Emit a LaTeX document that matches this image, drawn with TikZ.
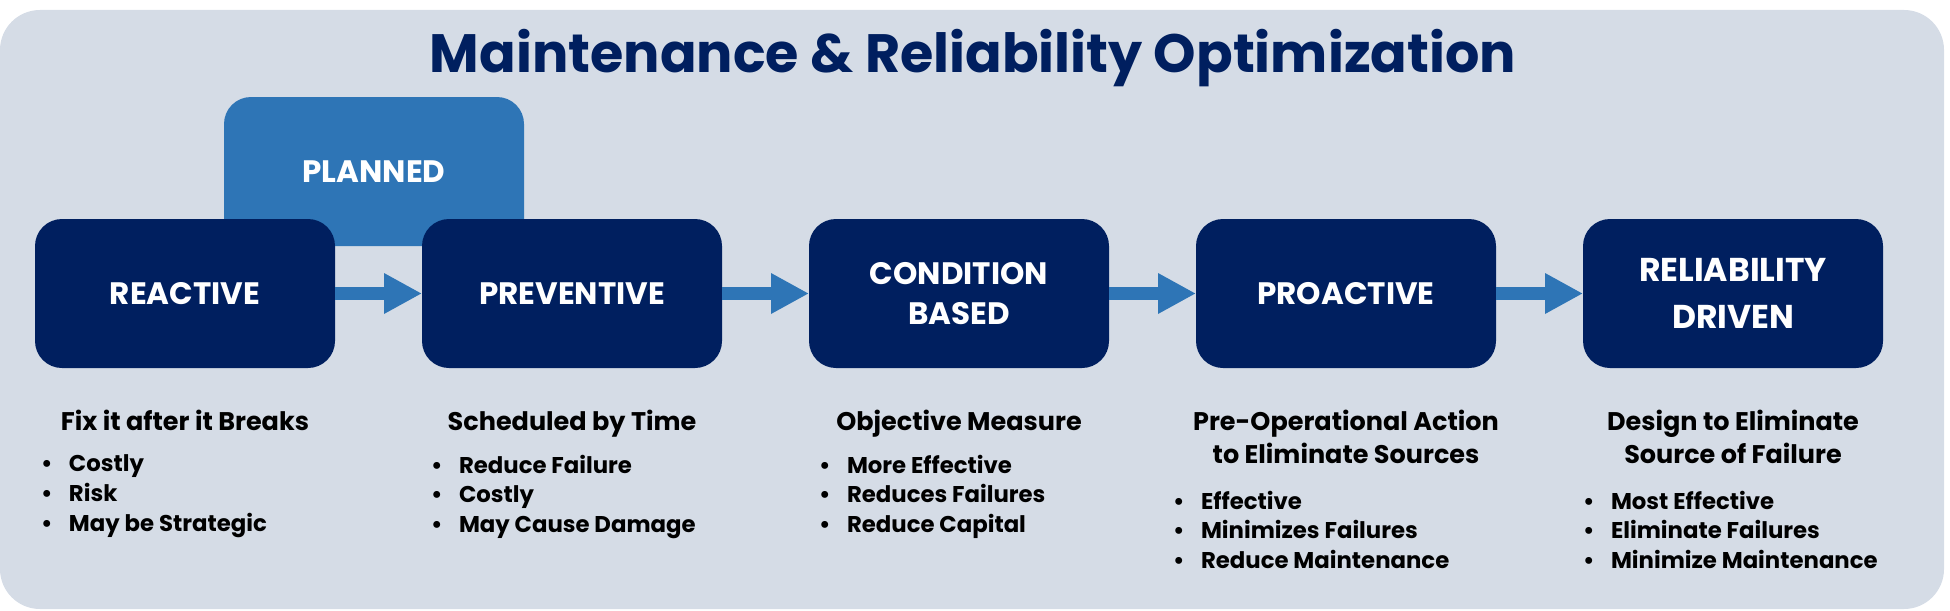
\documentclass[tikz,border=0pt]{standalone}
\usepackage{fontspec}
\setmainfont{Poppins}
\usetikzlibrary{
    arrows.meta,
    positioning
}
\definecolor{navy}{HTML}{001F5F}
\definecolor{steel}{HTML}{2E75B6}
\definecolor{panel}{HTML}{D5DCE6}
\newcommand\itm{\makebox[28pt][l]{\textbullet}}
\tikzset{
    every picture/.style = {
        x = 1pt,
        y = -1pt
    },
    stage/.style = {
        fill = navy,
        rounded corners = 27pt,
        minimum width = 300pt,
        minimum height = 149pt,
        inner sep = 0pt,
        outer sep = 0pt,
        text = white,
        align = center,
        font = \fontsize{31}{40.7}\selectfont\bfseries
    },
    flow/.style = {
        draw = steel,
        line width = 13pt,
        -{Triangle[length=38pt, width=38pt]}
    },
    head/.style = {
        inner sep = 0pt,
        outer sep = 0pt,
        align = center,
        anchor = north,
        font = \fontsize{25.5}{33}\selectfont\bfseries
    },
    list/.style = {
        inner sep = 0pt,
        outer sep = 0pt,
        align = left,
        anchor = north west,
        font = \fontsize{22.8}{29.7}\selectfont\bfseries
    }
}

\begin{document}
\begin{tikzpicture}
    \useasboundingbox (0,0) rectangle (1950,610);
    \fill[panel, rounded corners=40pt] (0,10) rectangle (1944,609);

    \node[font=\fontsize{54}{60}\selectfont\bfseries, text=navy, anchor=base] (title)
        at (973,72) {Maintenance \& Reliability Optimization};

    \node[stage, fill=steel] (planned) at (374,171.5) {PLANNED};
    \node[stage] (reactive) at (185,293.5) {REACTIVE};
    \node[stage, right=87pt of reactive] (preventive) {PREVENTIVE};
    \node[stage, right=87pt of preventive] (condition) {CONDITION\\BASED};
    \node[stage, right=87pt of condition] (proactive) {PROACTIVE};
    \node[stage, right=87pt of proactive,
          font=\fontsize{33}{46.7}\selectfont\bfseries] (reliability) {RELIABILITY\\DRIVEN};

    \draw[flow] (reactive) -- (preventive);
    \draw[flow] (preventive) -- (condition);
    \draw[flow] (condition) -- (proactive);
    \draw[flow] (proactive) -- (reliability);

    \node[head, below=42pt of reactive] (hreactive) {Fix it after it Breaks};
    \node[head, below=42pt of preventive] (hpreventive) {Scheduled by Time};
    \node[head, below=42pt of condition] (hcondition) {Objective Measure};
    \node[head, below=42pt of proactive] (hproactive) {Pre-Operational Action\\to Eliminate Sources};
    \node[head, below=42pt of reliability] (hreliability) {Design to Eliminate\\Source of Failure};

    \node[list] (lreactive) at (41,455) {\itm Costly\\\itm Risk\\\itm May be Strategic};
    \node[list] (lpreventive) at (431,455) {\itm Reduce Failure\\\itm Costly\\\itm May Cause Damage};
    \node[list] (lcondition) at (819,455) {\itm More Effective\\\itm Reduces Failures\\\itm Reduce Capital};
    \node[list] (lproactive) at (1173,491) {\itm Effective\\\itm Minimizes Failures\\\itm Reduce Maintenance};
    \node[list] (lreliability) at (1583,491) {\itm Most Effective\\\itm Eliminate Failures\\\itm Minimize Maintenance};
\end{tikzpicture}
\end{document}
